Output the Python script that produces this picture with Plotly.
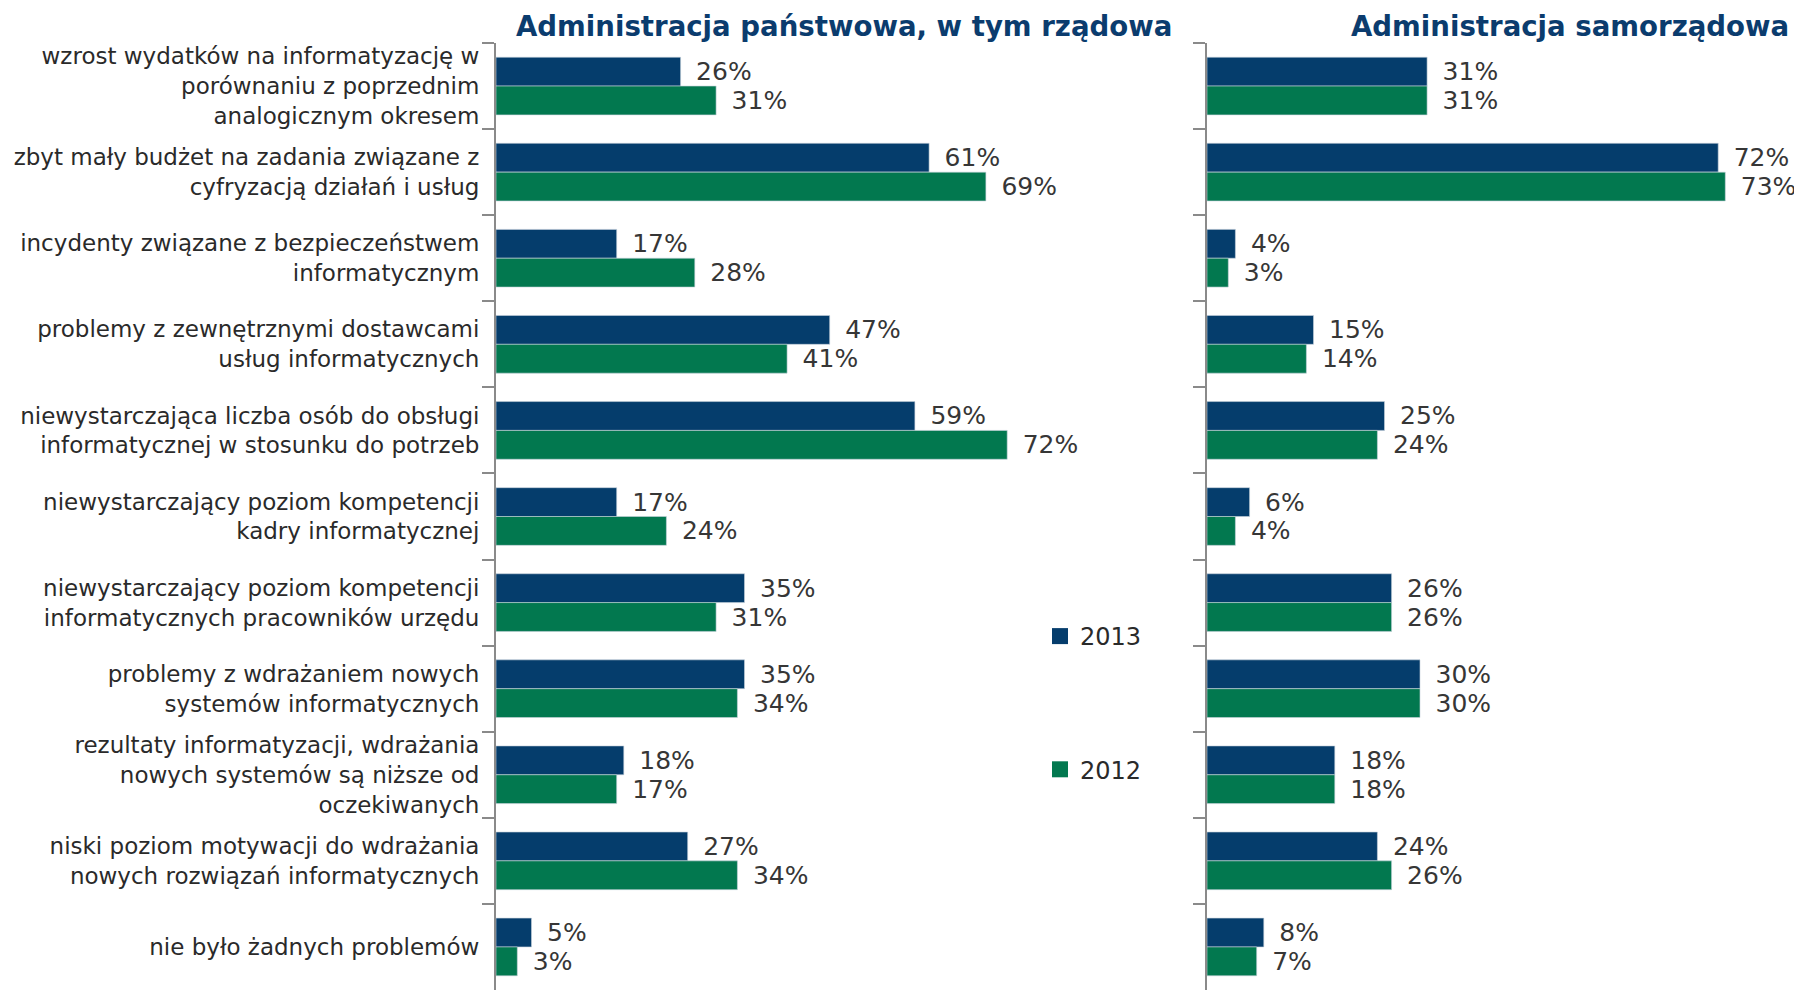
import plotly.graph_objects as go

categories = [
    "wzrost wydatków na informatyzację w<br>porównaniu z poprzednim<br>analogicznym okresem",
    "zbyt mały budżet na zadania związane z<br>cyfryzacją działań i usług",
    "incydenty związane z bezpieczeństwem<br>informatycznym",
    "problemy z zewnętrznymi dostawcami<br>usług informatycznych",
    "niewystarczająca liczba osób do obsługi<br>informatycznej w stosunku do potrzeb",
    "niewystarczający poziom kompetencji<br>kadry informatycznej",
    "niewystarczający poziom kompetencji<br>informatycznych pracowników urzędu",
    "problemy z wdrażaniem nowych<br>systemów informatycznych",
    "rezultaty informatyzacji, wdrażania<br>nowych systemów są niższe od<br>oczekiwanych",
    "niski poziom motywacji do wdrażania<br>nowych rozwiązań informatycznych",
    "nie było żadnych problemów",
]

panstwowa_2013 = [26, 61, 17, 47, 59, 17, 35, 35, 18, 27, 5]
panstwowa_2012 = [31, 69, 28, 41, 72, 24, 31, 34, 17, 34, 3]
samorzadowa_2013 = [31, 72, 4, 15, 25, 6, 26, 30, 18, 24, 8]
samorzadowa_2012 = [31, 73, 3, 14, 24, 4, 26, 30, 18, 26, 7]

series_names = ["2013", "2012"]
panel_titles = ["Administracja państwowa, w tym rządowa", "Administracja samorządowa"]

NAVY = "#053d6c"
GREEN = "#02784f"
FONT = "'DejaVu Sans', sans-serif"
W, H = 1802, 990
OFF = 8  # page body margin: screen px = figure px + OFF

def fx(sx):
    return sx - OFF

def fy(sy):
    return sy - OFF

TOP = fy(43)
BOT = H - fy(990)
PLOT_H = H - TOP - BOT

fig = go.Figure()

def add_bar(vals, name, color, xa, ya):
    fig.add_trace(go.Bar(
        x=vals, y=categories, orientation="h", name=name,
        marker=dict(color=color, line=dict(color="rgba(200,210,220,0.6)", width=1)),
        text=["\u2002%d%%" % v for v in vals], textposition="outside",
        textfont=dict(size=25, color="#363636", family=FONT),
        constraintext="none", cliponaxis=False,
        xaxis=xa, yaxis=ya, showlegend=False,
        hoverinfo="x+y",
    ))

add_bar(panstwowa_2013, series_names[0], NAVY, "x", "y")
add_bar(panstwowa_2012, series_names[1], GREEN, "x", "y")
add_bar(samorzadowa_2013, series_names[0], NAVY, "x2", "y2")
add_bar(samorzadowa_2012, series_names[1], GREEN, "x2", "y2")

# legend-only entries with larger square symbols
for name, color in zip(series_names, [NAVY, GREEN]):
    fig.add_trace(go.Scatter(
        x=[None], y=[None], mode="markers", name=name, legendgroup=name,
        marker=dict(symbol="square", size=16, color=color),
        xaxis="x", yaxis="y", showlegend=True,
    ))

PX = 7.1
l_start, l_end = fx(496), fx(1090)
r_start, r_end = fx(1207), fx(1802)

yax = dict(autorange="reversed", showline=True, linecolor="#8a8a8a", linewidth=2,
           ticks="outside", tickson="boundaries", ticklen=12, tickcolor="#8a8a8a",
           tickwidth=2, showgrid=False, zeroline=False, automargin=False,
           ticklabelstandoff=10,
           tickfont=dict(size=23, color="#2a2a2a", family=FONT))

fig.update_layout(
    width=W, height=H,
    margin=dict(l=0, r=0, t=TOP, b=BOT, autoexpand=False),
    paper_bgcolor="white", plot_bgcolor="white",
    barmode="group", bargap=0.33, bargroupgap=0,
    font=dict(family=FONT),
    xaxis=dict(domain=[l_start / W, l_end / W], range=[0, (l_end - l_start) / PX],
               visible=False, automargin=False),
    xaxis2=dict(domain=[r_start / W, r_end / W], range=[0, (r_end - r_start) / PX],
                visible=False, automargin=False),
    yaxis=dict(**yax, anchor="x"),
    yaxis2=dict(**yax, anchor="x2", showticklabels=False),
    legend=dict(x=fx(1040) / W, y=(H - BOT - fy(614)) / PLOT_H, xanchor="left", yanchor="top",
                font=dict(size=24, color="#2a2a2a", family=FONT),
                tracegroupgap=99, traceorder="grouped", bgcolor="rgba(0,0,0,0)",
                itemsizing="trace"),
    annotations=[
        dict(text="<b>%s</b>" % panel_titles[0], x=fx(1174) / W, xref="paper", xanchor="right",
             y=1 + (TOP - fy(26)) / PLOT_H, yref="paper", yanchor="middle", showarrow=False,
             font=dict(size=27.6, color="#0b3c6e", family=FONT)),
        dict(text="<b>%s</b>" % panel_titles[1], x=fx(1791) / W, xref="paper", xanchor="right",
             y=1 + (TOP - fy(26)) / PLOT_H, yref="paper", yanchor="middle", showarrow=False,
             font=dict(size=27.6, color="#0b3c6e", family=FONT)),
    ],
)

fig.write_html("out.html")
